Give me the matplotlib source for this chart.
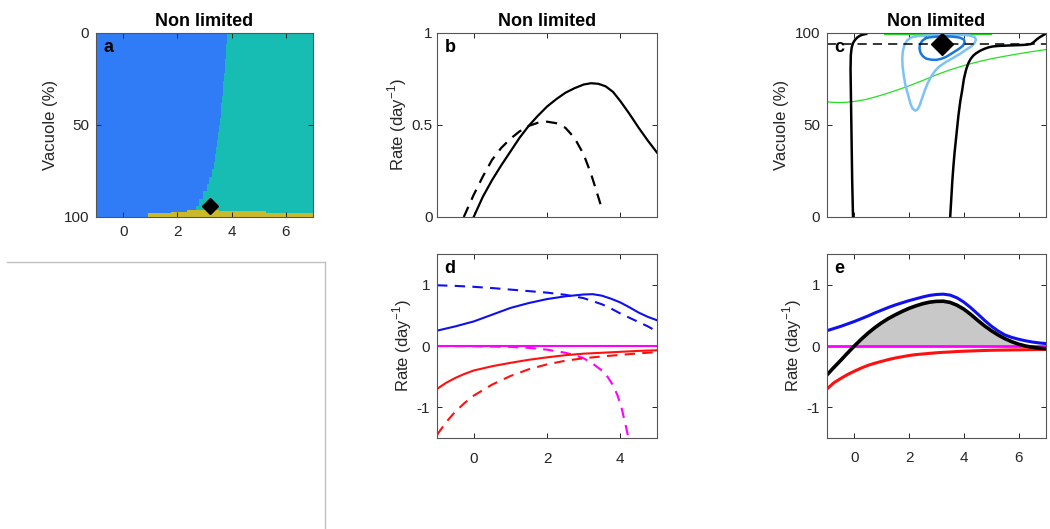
import numpy as np
import matplotlib
matplotlib.use('Agg')
import matplotlib.pyplot as plt

plt.rcParams['font.family'] = ['Liberation Sans', 'DejaVu Sans']
plt.rcParams['mathtext.fontset'] = 'custom'
plt.rcParams['mathtext.rm'] = 'Liberation Sans'
plt.rcParams['axes.unicode_minus'] = False

# --- panel a : regime map
vac_levels = [0, 4, 8, 12, 16, 20, 24, 28, 32, 36, 40, 44, 48, 52, 56, 60, 64, 68, 72, 76,
              80, 84, 88, 92, 96, 100]
border_x = [3.84, 3.83, 3.81, 3.79, 3.77, 3.75, 3.72, 3.70, 3.67, 3.65, 3.62, 3.59, 3.56,
            3.53, 3.50, 3.47, 3.44, 3.40, 3.35, 3.28, 3.17, 3.08, 2.96, 2.80, 2.70, 2.62]
yellow_edges = [0.9, 1.75, 2.35, 3.55, 5.25, 7.0]
yellow_top = [98.0, 97.2, 96.3, 96.6, 98.0]
opt_x, opt_vac = 3.2, 94.2

# --- panel b : net rates
b_solid_x = [0, 0.25, 0.5, 0.75, 1.0, 1.25, 1.5, 1.75, 2.0, 2.25, 2.5, 2.75, 3.0, 3.2,
             3.4, 3.6, 3.8, 4.0, 4.25, 4.5, 4.75, 5.0]
b_solid_y = [0, 0.11, 0.2, 0.28, 0.355, 0.43, 0.495, 0.55, 0.60, 0.64, 0.675, 0.70, 0.72,
             0.727, 0.724, 0.71, 0.68, 0.63, 0.56, 0.485, 0.415, 0.35]
b_dash_x = [-0.27, 0, 0.25, 0.5, 0.75, 1.0, 1.25, 1.5, 1.75, 2.0, 2.25, 2.5, 2.75, 3.0,
            3.2, 3.35, 3.52]
b_dash_y = [0, 0.12, 0.22, 0.31, 0.375, 0.425, 0.465, 0.495, 0.512, 0.518, 0.51, 0.485,
            0.43, 0.34, 0.235, 0.14, 0.03]

# --- panel c : contours in the (x, vacuole) plane
c_left_x = [-0.05, -0.08, -0.10, -0.12, -0.14, -0.13, -0.10, -0.05, 0.02, 0.1, 0.2, 0.3, 0.43]
c_left_y = [0, 20, 40, 60, 80, 88, 92, 94.5, 96.2, 97.5, 98.5, 99.1, 99.5]
c_right_x = [3.5, 3.54, 3.58, 3.62, 3.66, 3.73, 3.8, 3.87, 3.94, 4.0, 4.08, 4.16, 4.25,
             4.35, 4.45, 4.6, 4.75, 4.9, 5.06, 5.3, 5.6, 6.0, 6.27, 6.45, 6.55, 6.66,
             6.76, 6.86, 6.95]
c_right_y = [0, 10, 20, 28, 35, 45, 55, 63, 69, 75, 80, 83.5, 86, 87.8, 89, 90.4, 91.4,
             92.2, 92.7, 93.0, 93.2, 93.4, 93.6, 94.0, 95.0, 96.5, 97.6, 98.5, 99.3]
c_green_x = [-1, -0.75, -0.5, -0.25, 0, 0.4, 0.8, 1.2, 1.6, 2.0, 2.5, 3.0, 3.5, 4.0, 4.5,
             5.0, 5.5, 6.0, 6.5, 7.0]
c_green_y = [62.6, 62.3, 62.2, 62.4, 62.8, 63.8, 65.4, 67.2, 69.2, 71.3, 74.2, 77.3, 80.0,
             82.3, 84.3, 86.0, 87.4, 88.7, 89.9, 91.0]
c_green_top_x = [1.07, 5.0]
c_green_top_y = [99.5, 99.5]
c_light_x = [2.25, 2.08, 1.93, 1.83, 1.77, 1.75, 1.76, 1.80, 1.86, 1.96, 2.05, 2.13, 2.23,
             2.31, 2.38, 2.46, 2.56, 2.68, 2.81, 2.95, 3.11, 3.35, 3.60, 3.85, 4.08, 4.28,
             4.39, 4.44, 4.40, 4.20, 3.9, 3.5, 3.0, 2.6, 2.25]
c_light_y = [98.3, 97.6, 96.0, 93.6, 90.0, 86.4, 82.0, 77.3, 72.0, 66.5, 61.5, 58.8, 57.8,
             58.6, 60.5, 64.0, 68.3, 72.8, 76.5, 79.5, 81.9, 84.3, 86.4, 88.6, 90.9, 92.8,
             94.6, 96.3, 97.7, 98.7, 99.0, 98.9, 98.8, 98.6, 98.3]
c_dark_x = [2.62, 2.48, 2.39, 2.38, 2.42, 2.50, 2.62, 2.8, 2.99, 3.18, 3.35, 3.6, 3.84,
            3.97, 4.03, 4.0, 3.85, 3.6, 3.3, 2.99, 2.78, 2.62]
c_dark_y = [97.3, 95.8, 93.6, 91.3, 89.1, 87.4, 86.1, 85.5, 85.4, 86.0, 87.0, 89.3, 91.6,
            93.2, 94.8, 96.5, 97.5, 98.0, 98.2, 98.0, 97.7, 97.3]
c_ref_vac = 94.2

# --- panel d : rate components
d_blue_x = [-1, -0.5, 0, 0.5, 1.0, 1.5, 2.0, 2.5, 3.0, 3.25, 3.5, 3.75, 4.0, 4.25, 4.5,
            4.75, 5.0]
d_blue_y = [0.25, 0.32, 0.40, 0.51, 0.62, 0.70, 0.765, 0.81, 0.84, 0.845, 0.82, 0.77,
            0.71, 0.63, 0.545, 0.475, 0.42]
d_blue_d_x = [-1, -0.5, 0, 0.5, 1.0, 1.5, 2.0, 2.5, 3.0, 3.5, 3.75, 4.0, 4.25, 4.5, 4.75, 4.93]
d_blue_d_y = [0.99, 0.98, 0.965, 0.945, 0.92, 0.895, 0.87, 0.835, 0.78, 0.68, 0.61, 0.53,
              0.46, 0.39, 0.32, 0.26]
d_mag_x = [-1, 5]
d_mag_y = [0, 0]
d_mag_d_x = [-1, 0, 1.0, 1.5, 2.0, 2.5, 2.75, 3.0, 3.25, 3.5, 3.65, 3.8, 3.92, 4.03, 4.14, 4.24]
d_mag_d_y = [0, -0.005, -0.015, -0.03, -0.06, -0.11, -0.15, -0.2, -0.29, -0.40, -0.50,
             -0.64, -0.80, -1.0, -1.28, -1.55]
d_red_x = [-1, -0.75, -0.5, -0.25, 0, 0.5, 1.0, 1.5, 2.0, 2.5, 3.0, 3.5, 4.0, 4.5, 5.0]
d_red_y = [-0.70, -0.60, -0.52, -0.455, -0.40, -0.33, -0.275, -0.225, -0.185, -0.15,
           -0.125, -0.11, -0.095, -0.08, -0.07]
d_red_d_x = [-1, -0.75, -0.5, -0.25, 0, 0.5, 1.0, 1.5, 2.0, 2.5, 3.0, 3.5, 4.0, 4.5, 5.0]
d_red_d_y = [-1.45, -1.24, -1.07, -0.93, -0.81, -0.63, -0.49, -0.38, -0.30, -0.24, -0.20,
             -0.17, -0.145, -0.12, -0.10]

# --- panel e : total rate and its parts
e_x = [-1, -0.75, -0.5, -0.25, 0, 0.25, 0.5, 0.75, 1.0, 1.25, 1.5, 1.75, 2.0, 2.25, 2.5,
       2.75, 3.0, 3.25, 3.5, 3.75, 4.0, 4.25, 4.5, 4.75, 5.0, 5.25, 5.5, 5.75, 6.0, 6.25,
       6.5, 6.75, 7.0]
e_black = [-0.47, -0.35, -0.235, -0.115, 0.0, 0.11, 0.21, 0.30, 0.38, 0.45, 0.51, 0.565,
           0.615, 0.655, 0.69, 0.715, 0.728, 0.73, 0.71, 0.665, 0.60, 0.515, 0.42, 0.33,
           0.25, 0.18, 0.12, 0.07, 0.03, 0.0, -0.02, -0.035, -0.045]
e_blue = [0.25, 0.285, 0.32, 0.36, 0.40, 0.445, 0.49, 0.54, 0.585, 0.63, 0.67, 0.705, 0.74,
          0.77, 0.80, 0.825, 0.84, 0.845, 0.83, 0.785, 0.715, 0.625, 0.525, 0.42, 0.325,
          0.245, 0.18, 0.14, 0.11, 0.085, 0.065, 0.05, 0.04]
e_red = [-0.70, -0.60, -0.53, -0.465, -0.41, -0.36, -0.315, -0.28, -0.25, -0.22, -0.195,
         -0.175, -0.155, -0.14, -0.13, -0.12, -0.11, -0.103, -0.097, -0.09, -0.085, -0.081,
         -0.077, -0.073, -0.07, -0.068, -0.066, -0.064, -0.063, -0.061, -0.059, -0.057, -0.055]
e_mag = [0] * len(e_x)

BLUE_A = '#2f7cf6'
TEAL_A = '#17bdb2'
YELL_A = '#cbb92c'
AXC = '#262626'
FS_TICK = 11
FS_LBL = 12
FS_TTL = 13


def style(ax, xpad=7, ypad=5):
    ax.tick_params(direction='in', top=True, right=True, length=3.5, width=0.7,
                   color=AXC, labelsize=FS_TICK, labelcolor=AXC)
    ax.tick_params(axis='x', pad=xpad)
    ax.tick_params(axis='y', pad=ypad)
    for s in ax.spines.values():
        s.set_color('#555555')
        s.set_linewidth(0.8)


def letter(ax, t):
    ax.text(0.035, 0.97, t, transform=ax.transAxes, fontsize=13, fontweight='bold',
            va='top', ha='left', color='k')


fig = plt.figure(figsize=(10.5, 5.29), dpi=100)
W, H = 1050, 529


def box(l, t, r, b):
    return [l / W, 1 - b / H, (r - l) / W, (b - t) / H]


rate_lbl = r'Rate (day$^{-1}$)'

# a
ax = fig.add_axes(box(96, 33, 313, 217))
ax.fill_betweenx(vac_levels, -1, border_x, step='mid', color=BLUE_A, lw=0)
ax.fill_betweenx(vac_levels, border_x, 7, step='mid', color=TEAL_A, lw=0)
ax.fill_between(yellow_edges, yellow_top + [yellow_top[-1]], 100, step='post', color=YELL_A, lw=0)
ax.plot(opt_x, opt_vac, 'D', color='k', ms=8)
ax.set_xlim(-1, 7)
ax.set_ylim(100, 0)
ax.set_xticks([0, 2, 4, 6])
ax.set_yticks([0, 50, 100])
ax.set_ylabel('Vacuole (%)', fontsize=FS_LBL, color=AXC, labelpad=4)
ax.set_title('Non limited', fontsize=FS_TTL, fontweight='bold', pad=5)
style(ax, xpad=6, ypad=5)
letter(ax, 'a')

# empty frame bottom-left
ax0 = fig.add_axes(box(7, 262, 325, 560))
ax0.set_xticks([])
ax0.set_yticks([])
for k in ['left', 'bottom']:
    ax0.spines[k].set_visible(False)
for k in ['top', 'right']:
    ax0.spines[k].set_color('#c0c0c0')
    ax0.spines[k].set_linewidth(1.0)

# b
ax = fig.add_axes(box(437, 33, 657, 217))
ax.plot(b_solid_x, b_solid_y, color='k', lw=1.6)
ax.plot(b_dash_x, b_dash_y, color='k', lw=1.6, ls=(0, (5, 3.5)))
ax.set_xlim(-1, 5)
ax.set_ylim(0, 1)
ax.set_xticks([0, 2, 4])
ax.set_xticklabels([])
ax.set_yticks([0, 0.5, 1])
ax.set_yticklabels(['0', '0.5', '1'])
ax.set_ylabel(rate_lbl, fontsize=FS_LBL, color=AXC, labelpad=2)
ax.set_title('Non limited', fontsize=FS_TTL, fontweight='bold', pad=5)
style(ax, ypad=3)
letter(ax, 'b')

# c
ax = fig.add_axes(box(827, 33, 1046, 217))
ax.plot(c_green_x, c_green_y, color='#22e022', lw=0.9)
ax.plot(c_green_top_x, c_green_top_y, color='#22e022', lw=0.9)
ax.plot(c_light_x, c_light_y, color='#7cc2f7', lw=1.8)
ax.plot(c_dark_x, c_dark_y, color='#1a78dc', lw=1.8)
ax.plot(c_left_x, c_left_y, color='k', lw=1.8)
ax.plot(c_right_x, c_right_y, color='k', lw=1.8)
ax.axhline(c_ref_vac, color='k', lw=1.1, ls=(0, (6, 4)))
ax.plot(opt_x, opt_vac, 'D', color='k', ms=11)
ax.set_xlim(-1, 7)
ax.set_ylim(0, 100)
ax.set_xticks([0, 2, 4, 6])
ax.set_xticklabels([])
ax.set_yticks([0, 50, 100])
ax.set_ylabel('Vacuole (%)', fontsize=FS_LBL, color=AXC, labelpad=4)
ax.set_title('Non limited', fontsize=FS_TTL, fontweight='bold', pad=5)
style(ax, ypad=5)
letter(ax, 'c')

# d
ax = fig.add_axes(box(437, 254, 657, 438))
ax.plot(d_blue_x, d_blue_y, color='#1010ee', lw=1.5)
ax.plot(d_blue_d_x, d_blue_d_y, color='#1010ee', lw=1.5, ls=(0, (5, 3.5)))
ax.plot(d_mag_x, d_mag_y, color='#ff00ff', lw=1.5)
ax.plot(d_mag_d_x, d_mag_d_y, color='#ff00ff', lw=1.5, ls=(0, (5, 3.5)))
ax.plot(d_red_x, d_red_y, color='#ff1010', lw=1.5)
ax.plot(d_red_d_x, d_red_d_y, color='#ff1010', lw=1.5, ls=(0, (5, 3.5)))
ax.set_xlim(-1, 5)
ax.set_ylim(-1.5, 1.5)
ax.set_xticks([0, 2, 4])
ax.set_yticks([-1, 0, 1])
ax.set_ylabel(rate_lbl, fontsize=FS_LBL, color=AXC, labelpad=2)
style(ax, xpad=10, ypad=5)
letter(ax, 'd')

# e
ax = fig.add_axes(box(827, 254, 1046, 438))
ax.fill_between(e_x, e_black, 0, where=np.array(e_black) > 0, interpolate=True,
                color='#c8c8c8', lw=0)
ax.plot(e_x, e_mag, color='#ff00ff', lw=2.0)
ax.plot(e_x, e_red, color='#ff1010', lw=2.2)
ax.plot(e_x, e_blue, color='#1010ee', lw=2.2)
ax.plot(e_x, e_black, color='k', lw=2.6)
ax.set_xlim(-1, 7)
ax.set_ylim(-1.5, 1.5)
ax.set_xticks([0, 2, 4, 6])
ax.set_yticks([-1, 0, 1])
ax.set_ylabel(rate_lbl, fontsize=FS_LBL, color=AXC, labelpad=2)
style(ax, xpad=9, ypad=5)
letter(ax, 'e')

fig.savefig('out.png', dpi=100)
